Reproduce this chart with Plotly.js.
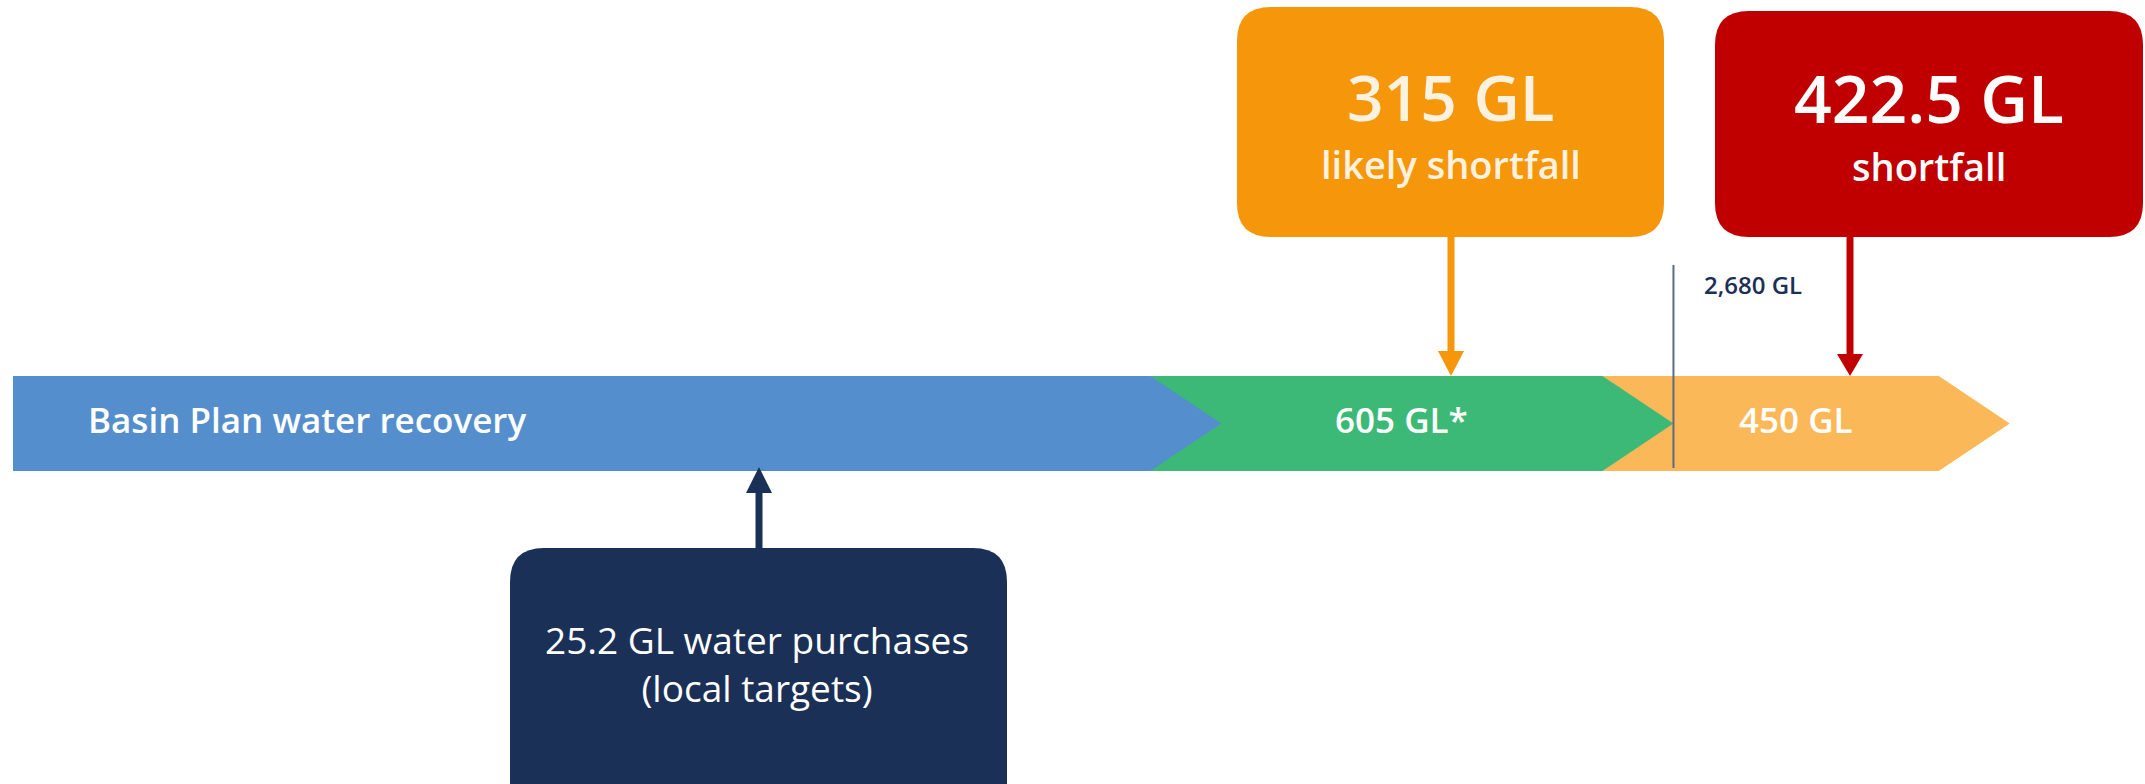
<!DOCTYPE html>
<html><head><meta charset="utf-8">
<script src="https://cdn.plot.ly/plotly-3.0.1.min.js"></script>
<style>html,body{margin:0;padding:0;background:#fff;overflow:hidden}#chart{width:2145px;height:784px}</style>
</head><body><div id="chart"></div>
<script>
// ---- data (GL) ----
const segmentNames  = ["Basin Plan water recovery", "605 GL*", "450 GL"];
const segmentValues = [2075, 605, 450];
const segmentColors = ["#558ECC", "#3DB977", "#FBB858"];
const markerLabel   = "2,680 GL";
const calloutTitles    = ["315 GL", "422.5 GL"];
const calloutSubtitles = ["likely shortfall", "shortfall"];
const purchaseLabel    = "25.2 GL water purchases<br>(local targets)";

// ---- layout constants (pixels) ----
const W = 2145, H = 784, ML = 13;
const XR = [458, 3311];
const BAND = {top: 376, bot: 471};
const DEPTH = 95;                 // chevron depth in GL
const FONT = '"Open Sans", "Noto Sans", sans-serif';

const fx = p => (p - ML) / (W - ML);   // pixel -> paper x

// cumulative positions
const ends = [], starts = [];
let acc = 0;
segmentValues.forEach(v => { starts.push(acc); acc += v; ends.push(acc); });
const markerValue = ends[1];

const mid = (BAND.top + BAND.bot) / 2;
const traces = [];
for (let i = segmentValues.length - 1; i >= 0; i--) {
  const left = i === 0 ? starts[0] : starts[i] - DEPTH;
  const rectEnd = ends[i] - DEPTH;
  traces.push({
    type: 'scatter', mode: 'lines', fill: 'toself',
    x: [left, rectEnd, ends[i], rectEnd, left, left],
    y: [BAND.top, BAND.top, mid, BAND.bot, BAND.bot, BAND.top],
    fillcolor: segmentColors[i], line: {width: 0, color: segmentColors[i]},
    hoverinfo: 'skip', showlegend: false
  });
}

function roundRect(x0, y0, x1, y1, r) {
  const X = p => fx(p).toFixed(6);
  return `M ${X(x0 + r)},${y0} L ${X(x1 - r)},${y0} Q ${X(x1)},${y0} ${X(x1)},${y0 + r} ` +
         `L ${X(x1)},${y1 - r} Q ${X(x1)},${y1} ${X(x1 - r)},${y1} L ${X(x0 + r)},${y1} ` +
         `Q ${X(x0)},${y1} ${X(x0)},${y1 - r} L ${X(x0)},${y0 + r} Q ${X(x0)},${y0} ${X(x0 + r)},${y0} Z`;
}
function tri(x, yBase, yTip, hw) {
  return `M ${fx(x - hw)},${yBase} L ${fx(x + hw)},${yBase} L ${fx(x)},${yTip} Z`;
}

const boxes = [
  {x0: 1237, y0: 7,   x1: 1664, y1: 237, color: '#F5960B', ax: 1451, sy0: 237, sy1: 354, tipBase: 351, tip: 376},
  {x0: 1715, y0: 11,  x1: 2143, y1: 237, color: '#C00000', ax: 1850, sy0: 237, sy1: 357, tipBase: 354, tip: 376},
  {x0: 510,  y0: 548, x1: 1007, y1: 830, color: '#1B3057', ax: 759, sy0: 548, sy1: 490, tipBase: 493, tip: 467}
];

const shapes = [{
  type: 'line', xref: 'x', yref: 'y', x0: markerValue, x1: markerValue, y0: 265, y1: 468,
  line: {color: '#5B6A86', width: 2}
}];
boxes.forEach(b => {
  shapes.push({type: 'path', xref: 'paper', yref: 'y', path: roundRect(b.x0, b.y0, b.x1, b.y1, 34),
               fillcolor: b.color, line: {width: 0}});
  shapes.push({type: 'line', xref: 'paper', yref: 'y', x0: fx(b.ax), x1: fx(b.ax), y0: b.sy0, y1: b.sy1,
               line: {color: b.color, width: 7}});
  shapes.push({type: 'path', xref: 'paper', yref: 'y', path: tri(b.ax, b.tipBase, b.tip, 13),
               fillcolor: b.color, line: {width: 0}});
});

const ann = (text, xpx, y, size, color, weight, anchor) => ({
  text, x: fx(xpx), y, xref: 'paper', yref: 'y', showarrow: false, borderpad: 0,
  xanchor: anchor || 'center', yanchor: 'middle',
  font: {family: FONT, size, color, weight: weight || 400}
});

const annotations = [
  ann(segmentNames[0], 87, 419, 35, '#FFFFFF', 600, 'left'),
  ann(segmentNames[1], 1401, 419, 35, '#FFFFFF', 600),
  ann(segmentNames[2], 1796, 419, 35, '#FFFFFF', 600),
  ann(markerLabel, 1703, 284, 24, '#1B3057', 600, 'left'),
  ann(calloutTitles[0], 1451, 96, 64, '#FDF1DF', 600),
  ann(calloutSubtitles[0], 1451, 164, 38, '#FDF1DF', 600),
  ann(calloutTitles[1], 1929, 97, 66, '#FFFFFF', 600),
  ann(calloutSubtitles[1], 1929, 166, 38, '#FFFFFF', 600),
  ann(purchaseLabel, 757, 663, 37, '#FFFFFF', 400)
];

const layout = {
  width: W, height: H,
  margin: {l: ML, r: 0, t: 0, b: 0, pad: 0},
  paper_bgcolor: '#FFFFFF', plot_bgcolor: '#FFFFFF',
  xaxis: {range: XR, visible: false, fixedrange: true},
  yaxis: {range: [H, 0], visible: false, fixedrange: true},
  showlegend: false, shapes, annotations
};
Plotly.newPlot('chart', traces, layout, {displayModeBar: false, staticPlot: true});
</script></body></html>
